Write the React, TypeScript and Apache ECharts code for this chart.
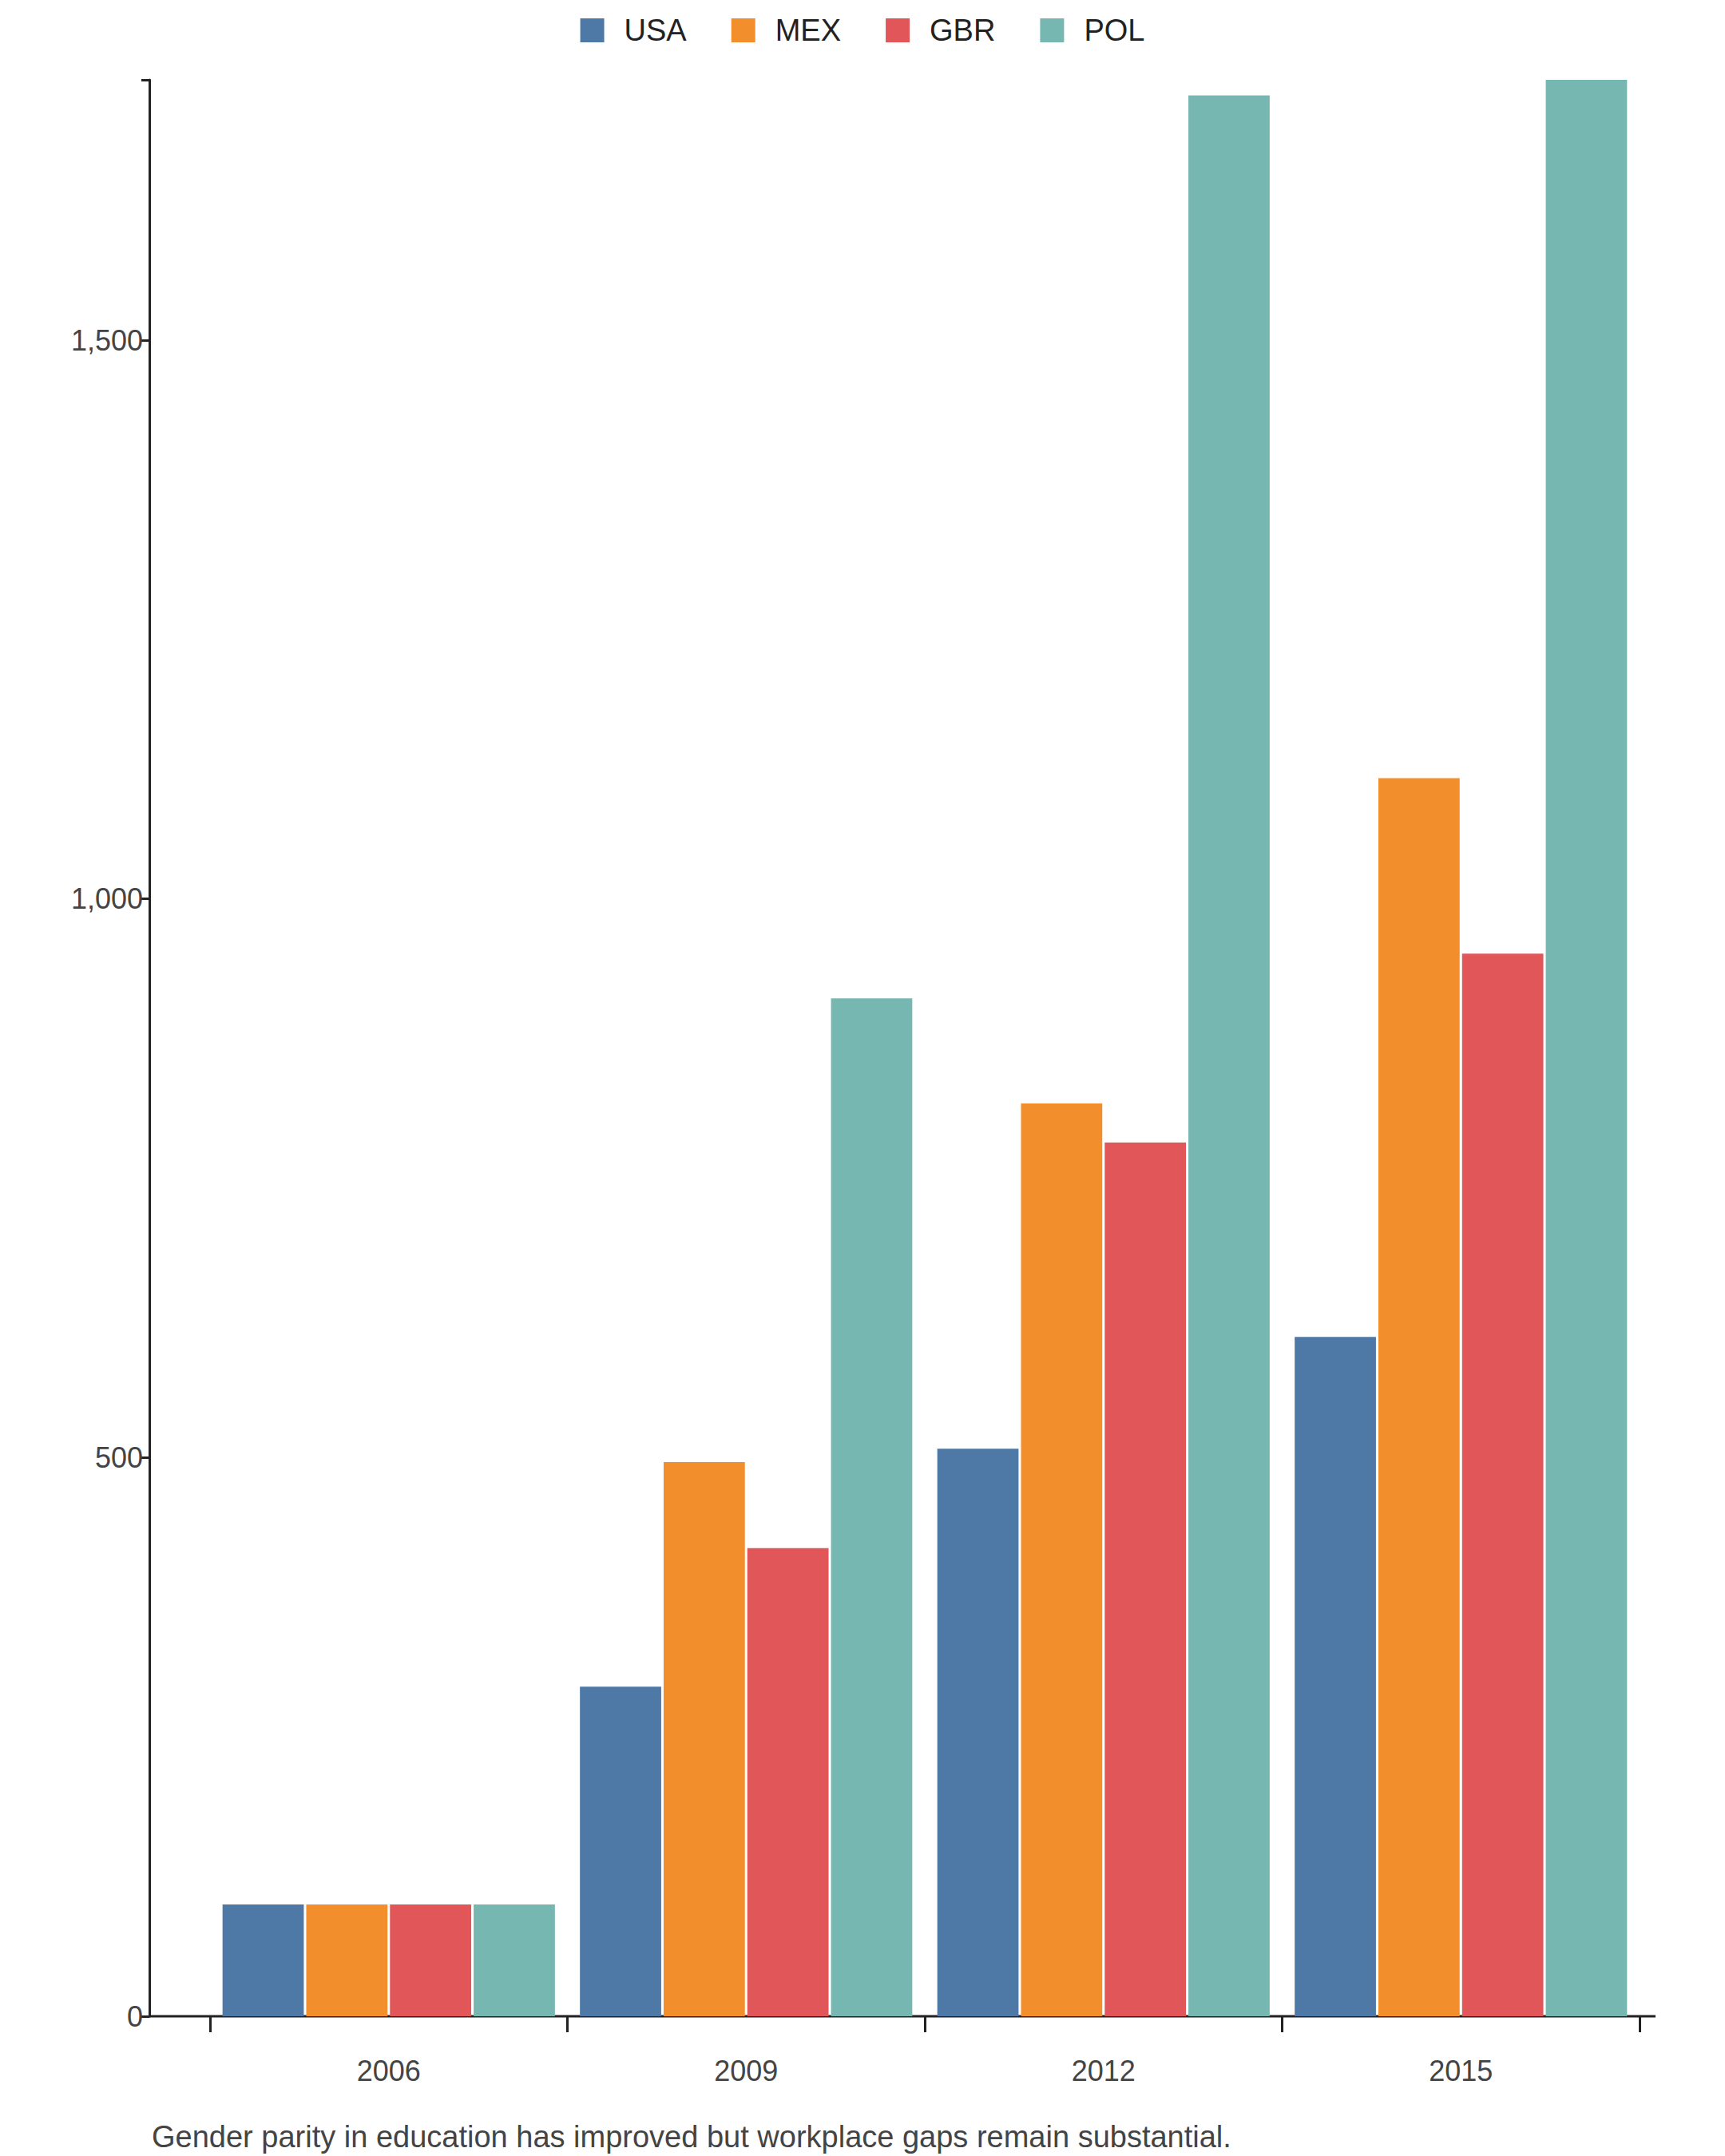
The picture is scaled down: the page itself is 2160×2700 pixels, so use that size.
import React, { useEffect, useRef } from "react";
import * as echarts from "echarts";

const years = ["2006", "2009", "2012", "2015"];
const usa = [100, 295, 508, 608];
const mex = [100, 496, 817, 1108];
const gbr = [100, 419, 782, 951];
const pol = [100, 911, 1719, 1733];
const caption = "Gender parity in education has improved but workplace gaps remain substantial.";

const App: React.FC = () => {
  const ref = useRef<HTMLDivElement | null>(null);

  useEffect(() => {
    document.body.style.margin = "0";
    if (!ref.current) return;
    const chart = echarts.init(ref.current, undefined, { renderer: "svg" });
    const font = "Liberation Sans, Arial, sans-serif";
    const mk = (name: string, data: number[], color: string) => ({
      name,
      type: "bar",
      data,
      itemStyle: { color },
      barGap: "3%",
      barCategoryGap: "7%",
    });
    chart.setOption({
      animation: false,
      textStyle: { fontFamily: font },
      legend: {
        top: 14,
        left: "center",
        itemWidth: 30,
        itemHeight: 30,
        itemGap: 56,
        icon: "rect",
        textStyle: { fontSize: 38, color: "#222", padding: [0, 0, 0, 20] },
      },
      grid: { left: 263, right: 107, top: 100, bottom: 175 },
      xAxis: {
        type: "category",
        data: years,
        axisLine: { show: false },
        axisTick: { show: true, length: 20, lineStyle: { color: "#222", width: 3 } },
        axisLabel: { fontSize: 36, color: "#444", margin: 50 },
      },
      yAxis: {
        type: "value",
        min: 0,
        max: 1733,
        interval: 500,
        offset: 76,
        splitLine: { show: false },
        axisLine: { show: true, lineStyle: { color: "#222", width: 3 } },
        axisTick: { show: true, length: 10, lineStyle: { color: "#222", width: 3 } },
        axisLabel: {
          fontSize: 36,
          color: "#444",
          formatter: (v: number) => (v % 500 === 0 ? v.toLocaleString("en-US") : ""),
        },
      },
      graphic: [
        {
          type: "line",
          shape: { x1: 187, y1: 2525, x2: 2073, y2: 2525 },
          style: { stroke: "#222", lineWidth: 3 },
        },
        {
          type: "text",
          left: 190,
          top: 2657,
          style: { text: caption, fontSize: 38, fill: "#444", fontFamily: font },
        },
      ],
      series: [
        mk("USA", usa, "#4e79a7"),
        mk("MEX", mex, "#f28e2b"),
        mk("GBR", gbr, "#e15759"),
        mk("POL", pol, "#76b7b2"),
      ],
    });
    return () => chart.dispose();
  }, []);

  return <div ref={ref} style={{ width: 2160, height: 2700 }} />;
};

export default App;
